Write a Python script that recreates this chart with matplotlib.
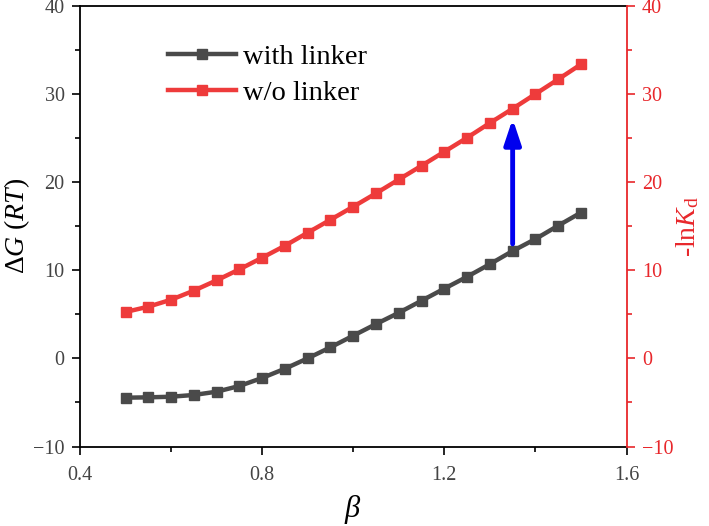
import matplotlib
matplotlib.use("Agg")
import matplotlib.pyplot as plt
from matplotlib.ticker import MultipleLocator

beta = [0.50, 0.55, 0.60, 0.65, 0.70, 0.75, 0.80, 0.85, 0.90, 0.95, 1.00,
        1.05, 1.10, 1.15, 1.20, 1.25, 1.30, 1.35, 1.40, 1.45, 1.50]
dG_with_linker = [-4.46, -4.42, -4.35, -4.15, -3.78, -3.13, -2.22, -1.17, 0.01, 1.26, 2.58,
                  3.90, 5.18, 6.55, 7.92, 9.27, 10.70, 12.19, 13.55, 15.07, 16.55]
lnKd_wo_linker = [5.27, 5.87, 6.66, 7.69, 8.86, 10.11, 11.43, 12.79, 14.27, 15.74, 17.22,
                  18.74, 20.31, 21.87, 23.46, 25.05, 26.72, 28.34, 30.01, 31.68, 33.38]
arrow_x = 1.35
arrow_from = 13.0
arrow_to = 27.2

plt.rcParams['font.family'] = ['Liberation Serif', 'DejaVu Serif']
plt.rcParams['mathtext.fontset'] = 'custom'
plt.rcParams['mathtext.rm'] = 'Liberation Serif'
plt.rcParams['mathtext.it'] = 'Liberation Serif:italic'

gray = '#4a4a4a'
red = '#ee3b3b'
axred = '#e8272b'

fig = plt.figure(figsize=(7.09, 5.26), dpi=100)
ax = fig.add_axes([80/709, 1-446.5/526, (626.5-80)/709, (446.5-6)/526])
ax2 = ax.twinx()

l1, = ax.plot(beta, dG_with_linker, '-s', color=gray, lw=3.2, ms=6.5, label='with linker')
l2, = ax2.plot(beta, lnKd_wo_linker, '-s', color=red, lw=3.2, ms=6.5, label='w/o linker')

ax2.annotate('', xy=(arrow_x, arrow_to), xytext=(arrow_x, arrow_from),
             arrowprops=dict(arrowstyle='-|>,head_length=1.5,head_width=0.5',
                             color='#0000ee', lw=3.5, shrinkA=0, shrinkB=0))

for a in (ax, ax2):
    a.set_xlim(0.4, 1.6)
    a.set_ylim(-10, 40)
    a.yaxis.set_major_locator(MultipleLocator(10))
    a.yaxis.set_minor_locator(MultipleLocator(5))
ax.xaxis.set_major_locator(MultipleLocator(0.4))
ax.xaxis.set_minor_locator(MultipleLocator(0.2))

ax.tick_params(axis='both', which='major', direction='out', length=6, width=1.2,
               labelsize=14.5, labelcolor='#444444', pad=5)
ax.tick_params(axis='both', which='minor', direction='out', length=3.5, width=1.2)
ax.tick_params(axis='x', pad=8)
ax2.tick_params(axis='y', which='major', direction='out', length=6, width=1.2,
                labelsize=14.5, colors=axred, pad=5)
ax2.tick_params(axis='y', which='minor', direction='out', length=3.5, width=1.2, colors=axred)

for s in ax.spines.values():
    s.set_linewidth(1.3)
ax2.spines['right'].set_color(axred)
ax2.spines['right'].set_linewidth(1.3)
ax2.spines['left'].set_visible(False)
ax2.spines['top'].set_visible(False)
ax2.spines['bottom'].set_visible(False)
ax.spines['right'].set_visible(False)

ax.set_xlabel(r'$\beta$', fontsize=22, labelpad=6)
ax.set_ylabel(r'$\Delta\mathit{G}\ (\mathit{RT})$', fontsize=20, labelpad=1)
ax2.set_ylabel(r'-ln$\mathit{K}_{\mathrm{d}}$', fontsize=20, color=axred, labelpad=1)

leg = ax.legend(handles=[l1, l2], loc='upper left', bbox_to_anchor=(0.124, 0.958),
                frameon=False, fontsize=20.5, handlelength=2.4, handletextpad=0.25,
                labelspacing=0.35, borderpad=0.2)

fig.savefig('out.png', dpi=100)
